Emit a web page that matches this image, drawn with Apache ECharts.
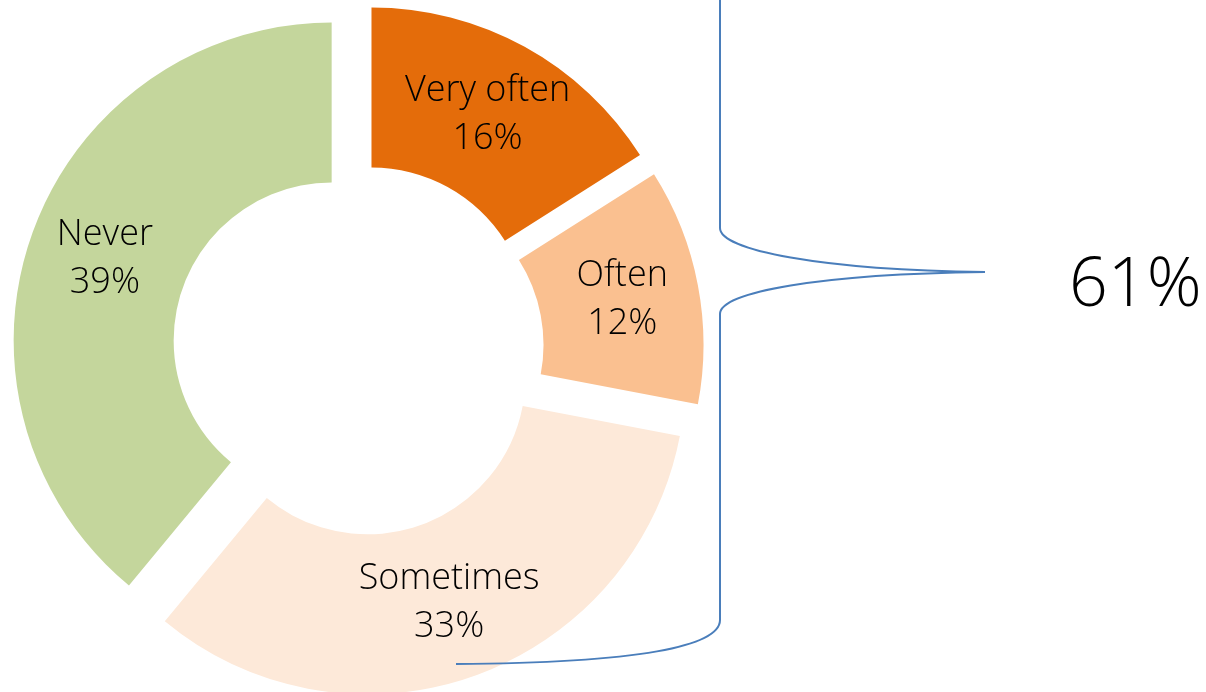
<!DOCTYPE html>
<html>
<head>
<meta charset="utf-8">
<script src="https://cdn.jsdelivr.net/npm/echarts@6/dist/echarts.min.js"></script>
<style>
  html, body { margin: 0; padding: 0; background: #fff; }
  #chart { width: 1206px; height: 692px; }
</style>
</head>
<body>
<div id="chart"></div>
<script>
// 频率分布
const categories = ["Very often", "Often", "Sometimes", "Never"];
const shares = [16, 12, 33, 39];
const colors = ["#E46C0A", "#FAC090", "#FDE9D9", "#C4D69C"];
const bracketLabel = "61%";

const chart = echarts.init(document.getElementById("chart"));

const braceStyle = { stroke: "#4A7EBB", lineWidth: 2, fill: null };

const options = {
  animation: false,
  series: [
    {
      type: "pie",
      center: [358, 350],
      radius: [158, 318],
      startAngle: 90,
      clockwise: true,
      selectedMode: "multiple",
      selectedOffset: 28,
      avoidLabelOverlap: false,
      emphasis: { disabled: true },
      label: {
        show: true,
        position: "inside",
        formatter: (p) => p.name + "\n" + p.value + "%",
        fontFamily: "Open Sans",
        fontWeight: 300,
        fontSize: 36,
        lineHeight: 48,
        color: "#000",
      },
      labelLine: { show: false },
      select: {
        itemStyle: { borderWidth: 0 },
        label: { color: "#000" },
      },
      data: categories.map((name, i) => ({
        name,
        value: shares[i],
        selected: true,
        itemStyle: { color: colors[i] },
      })),
    },
  ],
  graphic: [
    // 右侧大括号
    { type: "line", z: 100, shape: { x1: 720, y1: 0, x2: 720, y2: 228 }, style: braceStyle },
    {
      type: "bezierCurve",
      z: 100,
      shape: { x1: 720, y1: 228, cpx1: 720, cpy1: 250, cpx2: 820, cpy2: 270, x2: 985, y2: 272 },
      style: braceStyle,
    },
    {
      type: "bezierCurve",
      z: 100,
      shape: { x1: 985, y1: 272, cpx1: 820, cpy1: 274, cpx2: 720, cpy2: 292, x2: 720, y2: 314 },
      style: braceStyle,
    },
    { type: "line", z: 100, shape: { x1: 720, y1: 314, x2: 720, y2: 620 }, style: braceStyle },
    {
      type: "bezierCurve",
      z: 100,
      shape: { x1: 720, y1: 620, cpx1: 720, cpy1: 646, cpx2: 640, cpy2: 663, x2: 456, y2: 664 },
      style: braceStyle,
    },
    {
      type: "text",
      left: 1069,
      top: 253,
      style: {
        text: bracketLabel,
        fontFamily: "Open Sans",
        fontWeight: 300,
        fontSize: 68,
        fill: "#000",
      },
    },
  ],
};

chart.setOption(options);
window.addEventListener("resize", () => {
  chart.resize();
});
</script>
</body>
</html>
